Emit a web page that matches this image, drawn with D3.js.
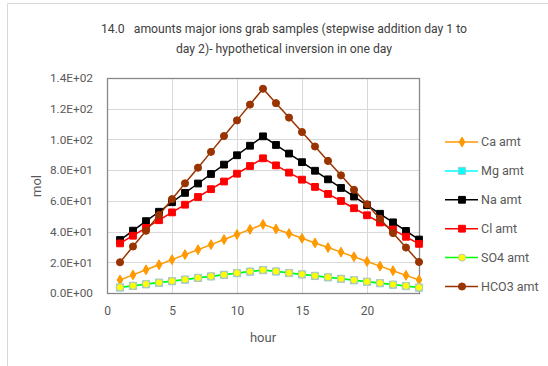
<!DOCTYPE html>
<html>
<head>
<meta charset="utf-8">
<script src="https://cdn.jsdelivr.net/npm/d3@7"></script>
<style>
  body { margin: 0; background: #fff; }
  svg { display: block; font-family: Roboto, "Noto Sans", sans-serif; }
</style>
</head>
<body>
<svg id="chart" width="548" height="366"></svg>
<script>
// hours sampled
var hours = d3.range(1, 25);

// series values (mol)
var caAmt = [8.5, 11.8, 15.1, 18.4, 21.7, 25.0, 28.2, 31.5, 34.8, 38.1, 41.4, 44.7,
             41.7, 38.7, 35.6, 32.6, 29.6, 26.6, 23.6, 20.5, 17.5, 14.5, 11.5, 8.5];
var mgAmt = [3.6, 4.6, 5.7, 6.7, 7.7, 8.7, 9.8, 10.8, 11.8, 12.9, 13.9, 14.9,
             14.0, 13.0, 12.1, 11.1, 10.2, 9.2, 8.3, 7.3, 6.4, 5.4, 4.5, 3.5];
var naAmt = [34.5, 40.6, 46.8, 52.9, 59.1, 65.2, 71.3, 77.5, 83.6, 89.7, 95.9, 102.0,
             96.4, 90.8, 85.2, 79.6, 74.0, 68.4, 62.8, 57.2, 51.6, 46.0, 40.4, 34.8];
var clAmt = [32.3, 37.3, 42.4, 47.4, 52.5, 57.5, 62.5, 67.6, 72.6, 77.7, 82.7, 87.7,
             83.1, 78.4, 73.8, 69.1, 64.5, 59.9, 55.2, 50.6, 45.9, 41.3, 36.6, 32.0];
var so4Amt = [3.7, 4.7, 5.8, 6.8, 7.8, 8.8, 9.9, 10.9, 11.9, 13.0, 14.0, 15.0,
              14.1, 13.1, 12.2, 11.2, 10.3, 9.3, 8.4, 7.4, 6.5, 5.5, 4.6, 3.6];
var hco3Amt = [20.0, 30.3, 40.5, 50.8, 61.1, 71.4, 81.6, 91.9, 102.2, 112.4, 122.7, 133.0,
               123.6, 114.2, 104.8, 95.4, 86.0, 76.6, 67.2, 57.8, 48.4, 39.0, 29.6, 20.2];

var seriesNames = ["Ca amt", "Mg amt", "Na amt", "Cl amt", "SO4 amt", "HCO3 amt"];
var xTicks = [0, 5, 10, 15, 20];
var yTicks = [0, 20, 40, 60, 80, 100, 120, 140];

// styling per series
var styles = [
  { values: caAmt,   line: "#FF9900", fill: "#FF9900", stroke: "#FF9900", shape: d3.symbolDiamond, size: 28 },
  { values: mgAmt,   line: "#00FFFF", fill: "#00FFFF", stroke: "#A6C8C8", shape: d3.symbolSquare,  size: 52 },
  { values: naAmt,   line: "#000000", fill: "#000000", stroke: "#000000", shape: d3.symbolSquare,  size: 46 },
  { values: clAmt,   line: "#FF0000", fill: "#FF0000", stroke: "#FF0000", shape: d3.symbolSquare,  size: 46 },
  { values: so4Amt,  line: "#00FF00", fill: "#FFFF00", stroke: "#C0C8B0", shape: d3.symbolCircle,  size: 40 },
  { values: hco3Amt, line: "#993300", fill: "#993300", stroke: "#993300", shape: d3.symbolCircle,  size: 40 }
];

var svg = d3.select("#chart");

// outer frame
svg.append("path")
  .attr("d", "M7.5,366 V3.5 H548")
  .attr("fill", "none").attr("stroke", "#D9D9D9").attr("stroke-width", 1);

var margin = { top: 78, left: 107 };
var width = 312, height = 215;

var x = d3.scaleLinear().domain([0, 24]).range([0, width]);
var y = d3.scaleLinear().domain([0, 140]).range([height, 0]);

var g = svg.append("g").attr("transform", "translate(" + margin.left + "," + margin.top + ")");

// gridlines
g.append("g").selectAll("line").data(yTicks.slice(1)).enter().append("line")
  .attr("x1", 0).attr("x2", width)
  .attr("y1", function (d) { return Math.round(y(d)) + 0.5; })
  .attr("y2", function (d) { return Math.round(y(d)) + 0.5; })
  .attr("stroke", "#D9D9D9");
g.append("g").selectAll("line").data(xTicks.slice(1)).enter().append("line")
  .attr("y1", 0).attr("y2", height)
  .attr("x1", function (d) { return Math.round(x(d)) + 0.5; })
  .attr("x2", function (d) { return Math.round(x(d)) + 0.5; })
  .attr("stroke", "#D9D9D9");

// plot border
g.append("rect").attr("x", 0.5).attr("y", 0.5).attr("width", width).attr("height", height)
  .attr("fill", "none").attr("stroke", "#898989").attr("stroke-width", 1.3);

// axes (labels only)
var yAxis = g.append("g").call(d3.axisLeft(y).tickValues(yTicks).tickSize(0).tickPadding(14)
  .tickFormat(function (d) { return d.toExponential(1).replace("e", "E").replace(/E([+-])(\d)$/, "E$10$2"); }));
yAxis.select(".domain").remove();
yAxis.selectAll("text").attr("fill", "#595959").style("font-size", "11.8px")
  .style("font-family", "Roboto, sans-serif");

var xAxis = g.append("g").attr("transform", "translate(0," + height + ")")
  .call(d3.axisBottom(x).tickValues(xTicks).tickSize(0).tickPadding(13));
xAxis.select(".domain").remove();
xAxis.selectAll("text").attr("fill", "#595959").style("font-size", "12px")
  .style("font-family", "Roboto, sans-serif");

// series lines and markers
var line = d3.line().x(function (d, i) { return x(hours[i]); }).y(function (d) { return y(d); });

styles.forEach(function (s) {
  g.append("path").datum(s.values)
    .attr("d", line).attr("fill", "none").attr("stroke", s.line).attr("stroke-width", 1.5);
  g.append("g").selectAll("path").data(s.values).enter().append("path")
    .attr("d", d3.symbol().type(s.shape).size(s.size))
    .attr("transform", function (d, i) { return "translate(" + x(hours[i]) + "," + y(d) + ")"; })
    .attr("fill", s.fill).attr("stroke", s.stroke).attr("stroke-width", 1);
});

// titles
var title = svg.append("text").attr("text-anchor", "middle").attr("fill", "#404040")
  .style("font-size", "12.2px").style("white-space", "pre");
title.append("tspan").attr("x", 284).attr("y", 33).text("14.0   amounts major ions grab samples (stepwise addition day 1 to");
title.append("tspan").attr("x", 284).attr("y", 53).text("day 2)- hypothetical inversion in one day");

svg.append("text").attr("x", 263).attr("y", 342).attr("text-anchor", "middle")
  .attr("fill", "#595959").style("font-size", "13px").text("hour");
svg.append("text").attr("transform", "translate(41,186) rotate(-90)").attr("text-anchor", "middle")
  .attr("fill", "#595959").style("font-size", "13px").text("mol");

// legend
var legend = svg.append("g").selectAll("g").data(styles).enter().append("g")
  .attr("transform", function (d, i) { return "translate(445," + (142 + i * 28.9) + ")"; });
legend.append("line").attr("x1", 0).attr("x2", 33).attr("stroke", function (d) { return d.line; }).attr("stroke-width", 1.5);
legend.append("path")
  .attr("d", function (d) { return d3.symbol().type(d.shape).size(d.size)(); })
  .attr("transform", "translate(17,0)")
  .attr("fill", function (d) { return d.fill; })
  .attr("stroke", function (d) { return d.stroke; });
legend.append("text").attr("x", 36).attr("y", 0).attr("dy", "0.35em")
  .attr("fill", "#595959").style("font-size", "12.5px")
  .text(function (d, i) { return seriesNames[i]; });
</script>
</body>
</html>
